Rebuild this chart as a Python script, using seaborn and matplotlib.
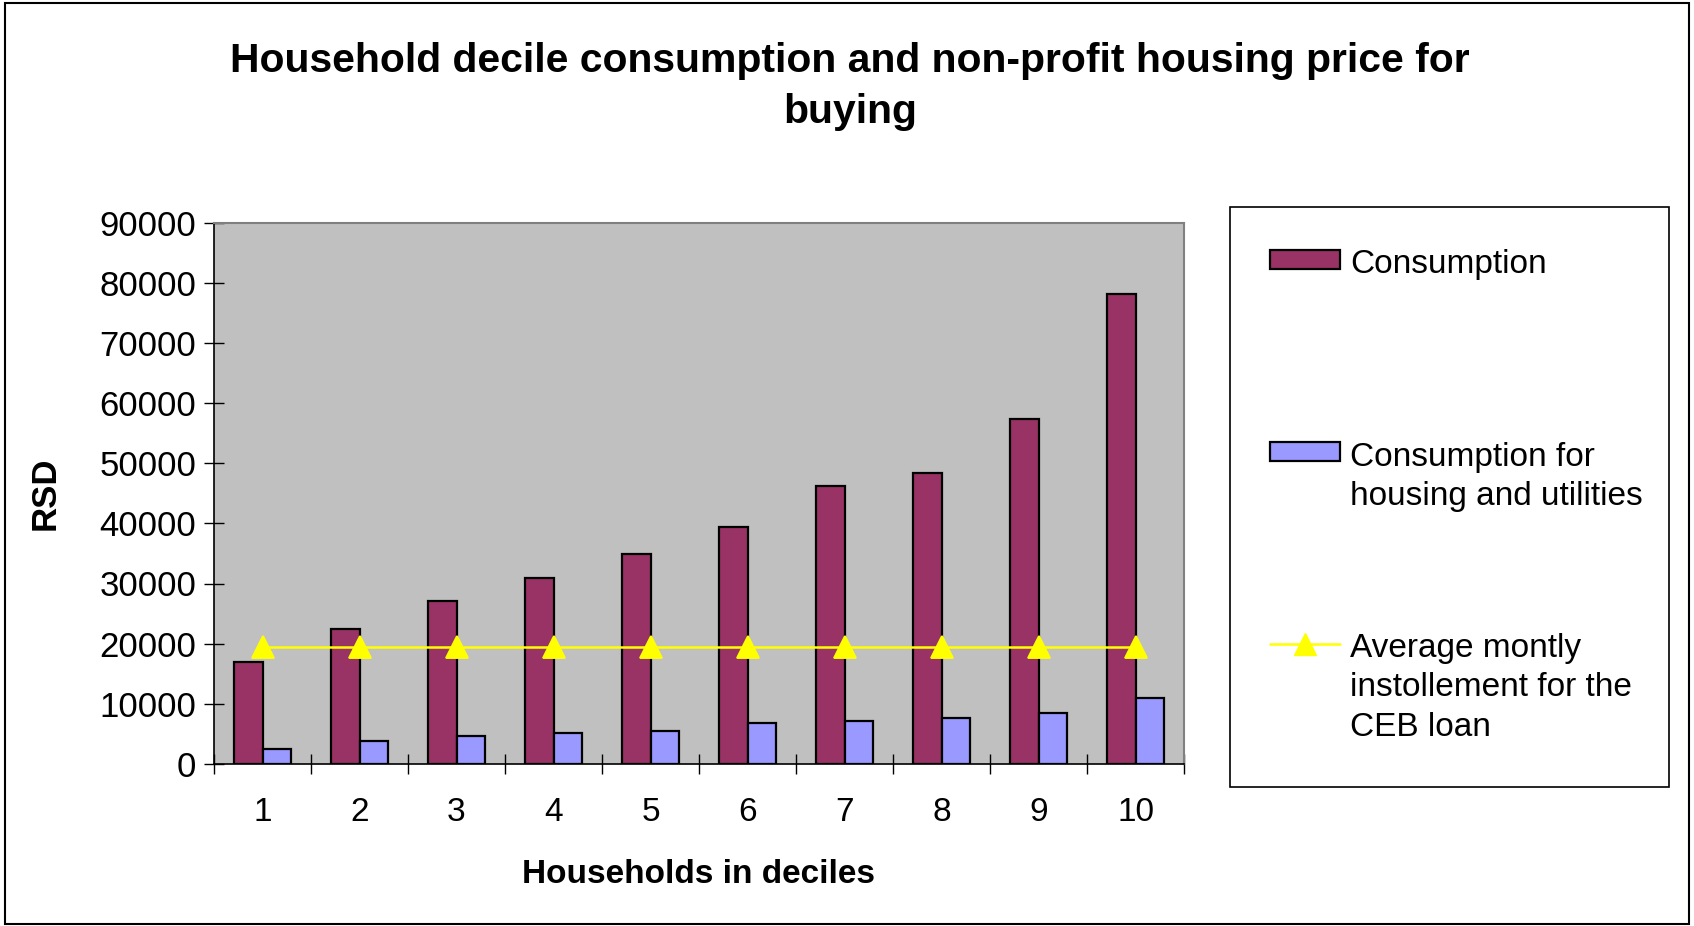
# Household decile consumption vs. non-profit housing installment

import numpy as np
import pandas as pd
import matplotlib
matplotlib.use("Agg")
import matplotlib.pyplot as plt
import seaborn as sns
from matplotlib.patches import Patch, Rectangle
from matplotlib.lines import Line2D

# data
deciles = ["1", "2", "3", "4", "5", "6", "7", "8", "9", "10"]
consumption = [16950, 22500, 27150, 30950, 34850, 39450, 46250, 48350, 57300, 78050]
housing = [2500, 3800, 4700, 5150, 5500, 6750, 7200, 7600, 8500, 11000]
installment = [19400, 19400, 19400, 19400, 19400, 19400, 19400, 19400, 19400, 19400]
y_ticks = [0, 10000, 20000, 30000, 40000, 50000, 60000, 70000, 80000, 90000]

bar_names = ["Consumption", "Consumption for\nhousing and utilities"]
line_name = "Average montly\ninstollement for the\nCEB loan"
bar_colors = ["#993366", "#9999FF"]
line_color = "#FFFF00"

df = pd.DataFrame({
    "Decile": deciles * 2,
    "RSD": consumption + housing,
    "Series": [bar_names[0]] * len(deciles) + [bar_names[1]] * len(deciles),
})

sns.set_theme(style="white")
plt.rcParams["font.family"] = ["Liberation Sans", "DejaVu Sans"]
plt.rcParams["text.color"] = "black"
plt.rcParams["axes.labelcolor"] = "black"
plt.rcParams["xtick.color"] = "black"
plt.rcParams["ytick.color"] = "black"

W, H = 1694, 926
fig = plt.figure(figsize=(W / 100, H / 100), dpi=100)
ax = fig.add_axes([214 / W, 1 - 764 / H, 970 / W, 541.5 / H])
ax.set_facecolor("#C0C0C0")

sns.barplot(data=df, x="Decile", y="RSD", hue="Series", order=deciles,
            hue_order=bar_names, palette=bar_colors, saturation=1,
            width=0.58, edgecolor="black", linewidth=1.6, legend=False, ax=ax)
sns.pointplot(x=deciles, y=installment, order=deciles, color=line_color,
              markers="^", markersize=16, linewidth=1.8, errorbar=None, ax=ax)

ax.set_xlim(-0.5, 9.5)
ax.set_ylim(0, 90000)
ax.set_yticks(y_ticks)
ax.set_yticklabels([str(v) for v in y_ticks])
ax.set_xticks(np.arange(-0.5, 10, 1), minor=True)

ax.tick_params(axis="y", left=True, direction="inout", length=14.4, width=1,
               labelsize=25, pad=5.5, color="black")
ax.tick_params(axis="x", which="major", bottom=True, length=0, labelsize=24, pad=24)
ax.tick_params(axis="x", which="minor", bottom=True, direction="inout",
               length=14.4, width=1, color="black")

for side in ["left", "bottom"]:
    ax.spines[side].set_color("black")
    ax.spines[side].set_linewidth(1.2)
for side in ["top", "right"]:
    ax.spines[side].set_color("#808080")
    ax.spines[side].set_linewidth(1.5)

ax.set_xlabel("Households in deciles", fontsize=24, fontweight="bold", labelpad=22)
ax.set_ylabel("RSD", fontsize=25, fontweight="bold")
ax.yaxis.set_label_coords((61.6 - 214) / 970, 0.5)

fig.text(850 / W, 1 - 86.5 / H,
         "Household decile consumption and non-profit housing price for\nbuying",
         ha="center", va="center", fontsize=29.4, fontweight="bold", linespacing=1.46)

# legend box with three evenly spaced entries
fig.add_artist(Rectangle((1229.5 / W, 1 - 786.6 / H), 439.5 / W, 579.6 / H,
                         transform=fig.transFigure, facecolor="white",
                         edgecolor="black", linewidth=1.2, zorder=0))
handles = [
    Patch(facecolor=bar_colors[0], edgecolor="black", linewidth=1.6),
    Patch(facecolor=bar_colors[1], edgecolor="black", linewidth=1.6),
    Line2D([], [], color=line_color, marker="^", markersize=16, linewidth=1.8),
]
labels = [bar_names[0], bar_names[1], line_name]
tops = [249.5, 442, 633]
for h, lab, top in zip(handles, labels, tops):
    leg = fig.legend([h], [lab], loc="upper left",
                     bbox_to_anchor=(1270 / W, 1 - top / H),
                     frameon=False, fontsize=24, borderpad=0, borderaxespad=0,
                     handlelength=2.1, handleheight=0.5, handletextpad=0.3)
    for t in leg.get_texts():
        t.set_linespacing(1.35)
    for col in leg._legend_handle_box.get_children():
        for row in col.get_children():
            row.align = "top"

# outer chart border
fig.add_artist(Rectangle((0.003, 0.002), 0.994, 0.995, transform=fig.transFigure,
                         facecolor="none", edgecolor="black", linewidth=1.5))

plt.savefig("out.png", dpi=100)
